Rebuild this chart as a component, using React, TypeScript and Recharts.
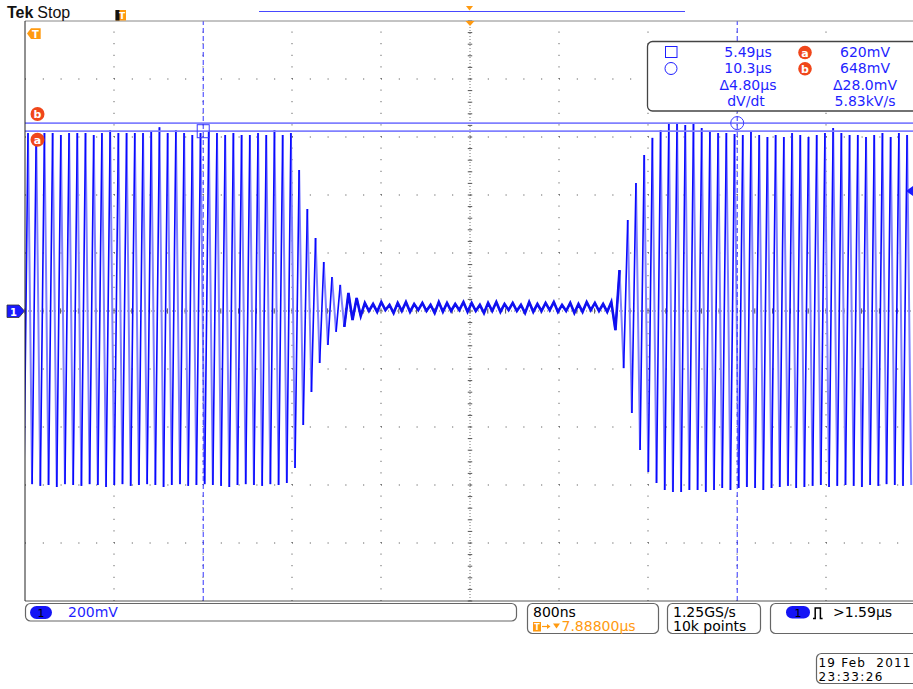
import React from 'react';
import { LineChart, Line, XAxis, YAxis, ReferenceLine, ReferenceDot } from 'recharts';

// ---- Axis setup (µs / mV) ----
const T_START = 3.888; // left edge of graticule, µs
const T_END = 11.888; // right edge, µs
const T_CENTER = 7.888;
const DIV_T = 0.8; // 800 ns / div
const DIV_V = 200; // 200 mV / div
const V_MIN = -1000;
const V_MAX = 1000;

// waveform timing
const FIRST_PEAK_T = 3.915;
const PERIOD = 0.07385;

// ---- Peak values (mV), one per cycle ----
const leftPeaks = [614, 612, 614, 614, 607, 614, 614, 614, 607, 614, 624, 614, 614, 614, 614, 617, 634, 614, 624, 614, 607, 614, 617, 614, 607, 614, 607, 607, 614, 607, 624, 607, 614];
const decayPeaks = [486, 352, 252, 169, 117, 90, 62, 45];
const noisePeaks = [28, 24, 31, 21, 28, 31, 24, 28, 21, 31, 28, 24, 31, 28, 21, 28, 31, 24, 28, 21, 31, 24, 28, 31, 21, 28, 24, 31, 28, 24, 31];
const risePeaks = [141, 314, 441, 538, 597, 624, 648, 648, 641];
const rightPeaks = [648, 631, 617, 614, 614, 610, 607, 617, 607, 600, 607, 600, 614, 607, 600, 607, 614, 631, 614, 607, 607, 600, 607, 614, 600, 614, 607];

// ---- Trough values (mV), the trough preceding each peak ----
const leftTroughs = [-600, -597, -603, -600, -607, -597, -600, -603, -597, -600, -607, -600, -597, -603, -600, -597, -600, -607, -600, -597, -603, -600, -597, -600, -603, -607, -600, -597, -600, -603, -597, -600, -593];
const decayTroughs = [-541, -393, -279, -179, -117, -72, -55, -31, -17];
const noiseTroughs = [0, -3, 3, -7, 0, -3, 3, 0, -7, -3, 0, 3, -3, 0, -7, 0, -3, 3, 0, -7, -3, 0, 3, -3, 0, -7, -3, 3, 0, -3];
const riseTroughs = [-66, -197, -352, -479, -555, -593, -617, -624, -624, -617];
const rightTroughs = [-617, -624, -617, -610, -617, -610, -607, -610, -617, -610, -607, -603, -610, -607, -603, -600, -607, -603, -600, -603, -607, -600, -603, -597, -600, -603, -600];

// cursors
const cursorTimes = [5.49, 10.29];
const cursorLevels = [620, 648];

const peaks = [...leftPeaks, ...decayPeaks, ...noisePeaks, ...risePeaks, ...rightPeaks];
const troughs = [...leftTroughs, ...decayTroughs, ...noiseTroughs, ...riseTroughs, ...rightTroughs];
const NOISE_FIRST = leftPeaks.length + decayPeaks.length - 2;
const NOISE_LAST = NOISE_FIRST + noisePeaks.length + 2;

type Pt = { t: number; v: number | null };
const rising: Pt[] = [];
const falling: Pt[] = [];
const flat: Pt[] = [];
peaks.forEach((p, k) => {
  const tp = FIRST_PEAK_T + k * PERIOD;
  const tr = tp - PERIOD / 2;
  const trNext = tp + PERIOD / 2;
  rising.push({ t: tr, v: troughs[k] }, { t: tp, v: p }, { t: tp + PERIOD / 4, v: null });
  if (k + 1 < troughs.length) {
    falling.push({ t: tp, v: p }, { t: trNext, v: troughs[k + 1] }, { t: trNext + PERIOD / 4, v: null });
  }
  if (k >= NOISE_FIRST && k <= NOISE_LAST) {
    flat.push({ t: tr, v: troughs[k] }, { t: tp, v: p });
  }
});

const xMinor: number[] = [];
for (let i = 0; i <= 50; i++) xMinor.push(+(T_START + (i * DIV_T) / 5).toFixed(4));
const yMinor: number[] = [];
for (let j = 0; j <= 50; j++) yMinor.push(V_MIN + (j * DIV_V) / 5);
const gridCols: number[] = [];
for (let i = 1; i < 10; i++) if (i !== 5) gridCols.push(+(T_START + i * DIV_T).toFixed(4));
const gridRows: number[] = [];
for (let j = 1; j < 10; j++) if (j !== 5) gridRows.push(V_MIN + j * DIV_V);

const F = "'DejaVu Sans', sans-serif";
const BLUE = '#1f1fff';
const ORANGE = '#ff9a10';
const RED = '#f0461a';

const SquareShape = (props: any) => (
  <rect x={props.cx - 6} y={props.cy - 6.5} width={12} height={13} fill="none" stroke="#3a3aff" strokeWidth={1} />
);

export default function App() {
  return (
    <div style={{ position: 'absolute', left: 0, top: 0, width: 913, height: 689, overflow: 'hidden', background: '#fff' }}>
      <LineChart width={916} height={689} margin={{ top: 21, right: 1, bottom: 88, left: 25 }}>
        <XAxis
          dataKey="t"
          type="number"
          domain={[T_START, T_END]}
          allowDataOverflow
          ticks={xMinor}
          interval={0}
          tick={false}
          tickSize={4}
          mirror
          axisLine={{ stroke: '#555' }}
          tickLine={{ stroke: '#555' }}
        />
        <XAxis
          xAxisId="top"
          orientation="top"
          dataKey="t"
          type="number"
          domain={[T_START, T_END]}
          allowDataOverflow
          ticks={xMinor}
          interval={0}
          tick={false}
          tickSize={4}
          mirror
          axisLine={{ stroke: '#888' }}
          tickLine={{ stroke: '#666' }}
        />
        <YAxis
          type="number"
          domain={[V_MIN, V_MAX]}
          allowDataOverflow
          ticks={yMinor}
          interval={0}
          tick={false}
          tickSize={4}
          mirror
          axisLine={{ stroke: '#222' }}
          tickLine={{ stroke: '#555' }}
        />
        {gridRows.map((v) => (
          <ReferenceLine key={'r' + v} y={v} stroke="#444" strokeDasharray="1 16.8" />
        ))}
        {gridCols.map((t) => (
          <ReferenceLine key={'c' + t} x={t} stroke="#444" strokeDasharray="1 10.6" />
        ))}
        <ReferenceLine y={0} stroke="#777" strokeDasharray="1 2" />
        <ReferenceLine x={T_CENTER} stroke="#777" strokeDasharray="1 2" />
        {xMinor.map((t) => (
          <ReferenceLine key={'xt' + t} segment={[{ x: t, y: -9 }, { x: t, y: 9 }]} stroke="#555" />
        ))}
        {yMinor.map((v) => (
          <ReferenceLine key={'yt' + v} segment={[{ x: T_CENTER - 0.02, y: v }, { x: T_CENTER + 0.02, y: v }]} stroke="#555" />
        ))}
        <Line data={falling} dataKey="v" type="linear" stroke="#7f7fff" strokeWidth={2} dot={false} activeDot={false} isAnimationActive={false} connectNulls={false} />
        <Line data={rising} dataKey="v" type="linear" stroke="#0808ff" strokeWidth={1.6} dot={false} activeDot={false} isAnimationActive={false} connectNulls={false} />
        <Line data={flat} dataKey="v" type="linear" stroke="#1010f0" strokeWidth={2.6} dot={false} activeDot={false} isAnimationActive={false} />
        {cursorLevels.map((v) => (
          <ReferenceLine key={'cl' + v} y={v} stroke="#8080ff" strokeWidth={1.8} />
        ))}
        {cursorTimes.map((t) => (
          <ReferenceLine key={'ct' + t} x={t} stroke="#3535ff" strokeDasharray="5 3" />
        ))}
        <ReferenceDot x={cursorTimes[0]} y={cursorLevels[0]} shape={SquareShape} />
        <ReferenceDot x={cursorTimes[1]} y={cursorLevels[1]} r={6.5} fill="none" stroke="#3a3aff" strokeWidth={1} />
      </LineChart>

      <svg width={913} height={689} style={{ position: 'absolute', left: 0, top: 0, pointerEvents: 'none' }}>
        {/* header */}
        <text x={7} y={18.3} fontFamily="'Liberation Sans', Arial, sans-serif" fontWeight="bold" fontSize={16} fill="#111">Tek</text>
        <text x={37.3} y={18.3} fontFamily="'Liberation Sans', Arial, sans-serif" fontSize={16} fill="#111">Stop</text>
        <rect x={115.5} y={10} width={10.5} height={10.5} fill={ORANGE} />
        <path d="M115.5 10 h4 v10.5 h-4 z" fill="#111" />
        <text x={122} y={19} fontFamily={F} fontSize={9} fontWeight="bold" fill="#fff" textAnchor="middle">T</text>
        <rect x={259} y={11} width={426} height={1} fill="#4848ff" />
        <polygon points="466,6 473,6 469.5,10.5" fill={ORANGE} />
        <polygon points="465.5,21 474.5,21 470,26" fill={ORANGE} />

        {/* trigger marker left */}
        <polygon points="27,33.6 31,28.3 40.7,28.3 40.7,39 31,39" fill={ORANGE} />
        <text x={35.5} y={37.8} fontFamily={F} fontSize={10} fontWeight="bold" fill="#fff" textAnchor="middle">T</text>

        {/* a / b markers */}
        <circle cx={37.5} cy={114} r={7} fill={RED} />
        <text x={37.5} y={118} fontFamily={F} fontSize={11} fontWeight="bold" fill="#fff" textAnchor="middle">b</text>
        <circle cx={37.5} cy={139.7} r={7} fill={RED} />
        <text x={37.5} y={143.7} fontFamily={F} fontSize={11} fontWeight="bold" fill="#fff" textAnchor="middle">a</text>

        {/* channel 1 marker */}
        <polygon points="7,305 19,305 24.5,311 19,317.5 7,317.5" fill="#1a1aff" stroke="#333" strokeWidth={0.8} />
        <text x={13.5} y={315.5} fontFamily={F} fontSize={10} fontWeight="bold" fill="#fff" textAnchor="middle">1</text>
        <polygon points="913,186 906,191 913,196" fill="#1a1aff" />

        {/* readout box */}
        <rect x={647.5} y={41.5} width={290} height={69.5} rx={5} fill="#fff" stroke="#444" strokeWidth={1.3} />
        <rect x={665.5} y={46.5} width={11.5} height={11} fill="none" stroke={BLUE} strokeWidth={1} />
        <circle cx={671} cy={68.5} r={6} fill="none" stroke={BLUE} strokeWidth={1} />
        <circle cx={805} cy={52.5} r={6.8} fill={RED} />
        <text x={805} y={56.5} fontFamily={F} fontSize={11} fontWeight="bold" fill="#fff" textAnchor="middle">a</text>
        <circle cx={805} cy={68.8} r={6.8} fill={RED} />
        <text x={805} y={72.8} fontFamily={F} fontSize={11} fontWeight="bold" fill="#fff" textAnchor="middle">b</text>
        <g fontFamily={F} fontSize={14} fill={BLUE} textAnchor="middle">
          <text x={748} y={57.3}>5.49µs</text>
          <text x={748} y={73.3}>10.3µs</text>
          <text x={748} y={90}>Δ4.80µs</text>
          <text x={746} y={106}>dV/dt</text>
          <text x={865} y={57.3}>620mV</text>
          <text x={865} y={73.3}>648mV</text>
          <text x={865} y={90}>Δ28.0mV</text>
          <text x={865} y={106}>5.83kV/s</text>
        </g>

        {/* bottom status boxes */}
        <rect x={25.5} y={603.5} width={491} height={17.5} rx={5} fill="#fff" stroke="#666" strokeWidth={1.2} />
        <rect x={30} y={606} width={22} height={13} rx={6.5} fill="#1414f5" />
        <text x={41} y={617} fontFamily={F} fontSize={11} fill="#000" textAnchor="middle">1</text>
        <text x={68} y={617} fontFamily={F} fontSize={14} fill={BLUE}>200mV</text>

        <rect x={527.5} y={603.5} width={131} height={30} rx={5} fill="#fff" stroke="#666" strokeWidth={1.2} />
        <text x={533} y={616.5} fontFamily={F} fontSize={14} fill="#000">800ns</text>
        <rect x={533} y={622} width={8} height={9.5} fill={ORANGE} />
        <text x={537} y={630} fontFamily={F} fontSize={8} fontWeight="bold" fill="#fff" textAnchor="middle">T</text>
        <line x1={542} x2={548} y1={626.5} y2={626.5} stroke={ORANGE} strokeWidth={1.2} />
        <polygon points="547,624 550.5,626.5 547,629" fill={ORANGE} />
        <polygon points="553,623.5 560,623.5 556.5,628.5" fill={ORANGE} />
        <text x={561.5} y={631} fontFamily={F} fontSize={14} fill={ORANGE}>7.88800µs</text>

        <rect x={667.5} y={603.5} width={93} height={30} rx={5} fill="#fff" stroke="#666" strokeWidth={1.2} />
        <text x={673} y={616.5} fontFamily={F} fontSize={14} fill="#000">1.25GS/s</text>
        <text x={673} y={631} fontFamily={F} fontSize={14} fill="#000">10k points</text>

        <rect x={770.5} y={603.5} width={160} height={30} rx={5} fill="#fff" stroke="#666" strokeWidth={1.2} />
        <rect x={786} y={606} width={24} height={12.5} rx={6.25} fill="#1414f5" />
        <text x={798} y={616.8} fontFamily={F} fontSize={11} fill="#000" textAnchor="middle">1</text>
        <path d="M813 618.5 h2.2 v-10.5 h5.2 v10.5 h2.2" fill="none" stroke="#000" strokeWidth={1.5} />
        <text x={833} y={617} fontFamily={F} fontSize={14} fill="#000">&gt;1.59µs</text>

        <rect x={816.5} y={653.5} width={110} height={30} rx={5} fill="#fff" stroke="#666" strokeWidth={1.2} />
        <text x={818.5} y={666.5} fontFamily={F} fontSize={12} fill="#000" textLength={92} lengthAdjust="spacing" style={{ whiteSpace: 'pre' }}>19 Feb  2011</text>
        <text x={818.5} y={680.5} fontFamily={F} fontSize={12} fill="#000" textLength={64} lengthAdjust="spacing">23:33:26</text>
      </svg>
    </div>
  );
}
